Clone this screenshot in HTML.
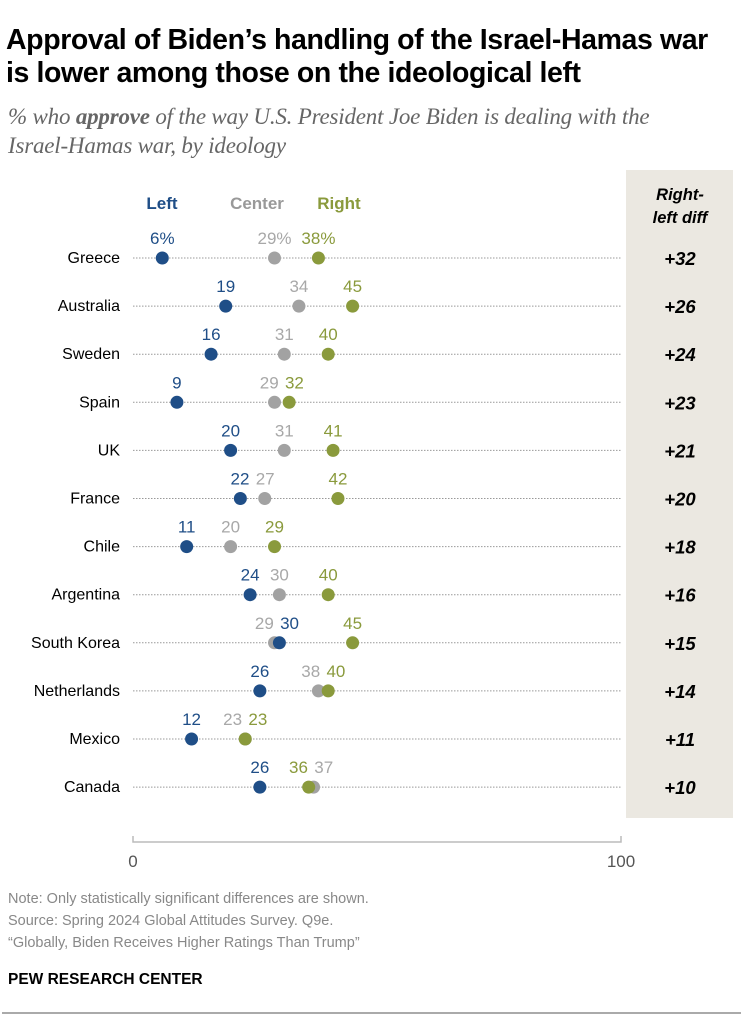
<!DOCTYPE html>
<html><head><meta charset="utf-8">
<style>
body{margin:0;width:743px;height:1023px;background:#fff;font-family:"Liberation Sans",Arial,sans-serif;overflow:hidden;position:relative}
.t{position:absolute;left:6px;font-weight:bold;font-size:28.5px;color:#000;line-height:33px;top:24px;letter-spacing:-0.4px}
.s{position:absolute;left:8px;top:102px;font-family:"Liberation Serif",serif;font-style:italic;font-size:23px;color:#666;line-height:29px;letter-spacing:-0.2px}
.f{position:absolute;left:8px;font-size:14.5px;color:#888}
</style></head><body>
<div class="t">Approval of Biden’s handling of the Israel-Hamas war<br>is lower among those on the ideological left</div>
<div class="s">% who <b>approve</b> of the way U.S. President Joe Biden is dealing with the<br>Israel-Hamas war, by ideology</div>
<svg id="c" width="743" height="880" style="position:absolute;left:0;top:0"></svg>
<div class="f" style="top:891px">Note: Only statistically significant differences are shown.</div>
<div class="f" style="top:913px">Source: Spring 2024 Global Attitudes Survey. Q9e.</div>
<div class="f" style="top:935px">“Globally, Biden Receives Higher Ratings Than Trump”</div>
<div style="position:absolute;left:8px;top:971px;font-size:15.5px;font-weight:bold;color:#000">PEW RESEARCH CENTER</div>
<div style="position:absolute;left:2px;right:2px;top:1012px;height:2px;background:#aaa"></div>
<script>
const countries=["Greece","Australia","Sweden","Spain","UK","France","Chile","Argentina","South Korea","Netherlands","Mexico","Canada"];
const leftVals=[6,19,16,9,20,22,11,24,30,26,12,26];
const centerVals=[29,34,31,29,31,27,20,30,29,38,23,37];
const rightVals=[38,45,40,32,41,42,29,40,45,40,23,36];
const diffs=["+32","+26","+24","+23","+21","+20","+18","+16","+15","+14","+11","+10"];
const ticks=[0,100];
const NS="http://www.w3.org/2000/svg",svg=document.getElementById('c');
const x=v=>133+v*4.88, y=i=>258+i*48.1;
function el(t,a,txt){const e=document.createElementNS(NS,t);for(const k in a)e.setAttribute(k,a[k]);if(txt!==undefined)e.textContent=txt;svg.appendChild(e);return e;}
const bg=el('rect',{x:626,y:170,width:107,height:648,fill:'#ebe8e1'});


const h=el('text',{x:680,y:200,'text-anchor':'middle','font-size':16.5,'font-weight':'bold','font-style':'italic'},'Right-');


el('text',{x:680,y:223,'text-anchor':'middle','font-size':16.5,'font-weight':'bold','font-style':'italic'},'left diff');
const cols=['#1f4e87','#a2a2a2','#8a9a3c'];
[['Left',162],['Center',257],['Right',339]].forEach((l,k)=>{
 const t=el('text',{x:l[1],y:209,'text-anchor':'middle','font-size':17,'font-weight':'bold',fill:k==1?'#999':cols[k]},l[0]);
 
 
});
countries.forEach((c,i)=>{
 const yy=y(i);
 const lab=el('text',{x:120,y:yy+5,'text-anchor':'end','font-size':16},c);
 
 
 const ln=el('line',{x1:133,x2:621,y1:yy,y2:yy,stroke:'#999','stroke-width':1,'stroke-dasharray':'1.5 1.5'});
 
 
 const vals=[leftVals[i],centerVals[i],rightVals[i]];
 let items=vals.map((v,k)=>({k,v,lx:x(v),txt:(i==0?v+'%':''+v)}));
 const s=[...items].sort((a,b)=>a.lx-b.lx);
 for(let it=0;it<5;it++)for(let j=1;j<s.length;j++){const w=(s[j-1].txt.length+s[j].txt.length)*4.8+6;const d=s[j].lx-s[j-1].lx;if(d<w){const m=(w-d)/2;s[j-1].lx-=m;s[j].lx+=m;}}
 [1,2,0].forEach(k=>{
  const d=el('circle',{cx:x(vals[k]),cy:yy,r:6.5,fill:cols[k]});
  
  
 });
 items.forEach(it=>{
  const t=el('text',{x:it.lx,y:yy-14,'text-anchor':'middle','font-size':17,fill:it.k==1?'#a8a8a8':cols[it.k]},it.txt);
  
  
 });
 const df=el('text',{x:680,y:yy+7,'text-anchor':'middle','font-size':18.5,'font-weight':'bold','font-style':'italic'},diffs[i]);
 
 
});
const ax=el('path',{d:`M${x(0)} 836V842H${x(100)}V836`,stroke:'#bbb','stroke-width':1.5,fill:'none'});


ticks.forEach(t=>{
 const tl=el('text',{x:x(t),y:867,'text-anchor':'middle','font-size':17,fill:'#555'},t);
 
 
});
</script>
</body></html>
